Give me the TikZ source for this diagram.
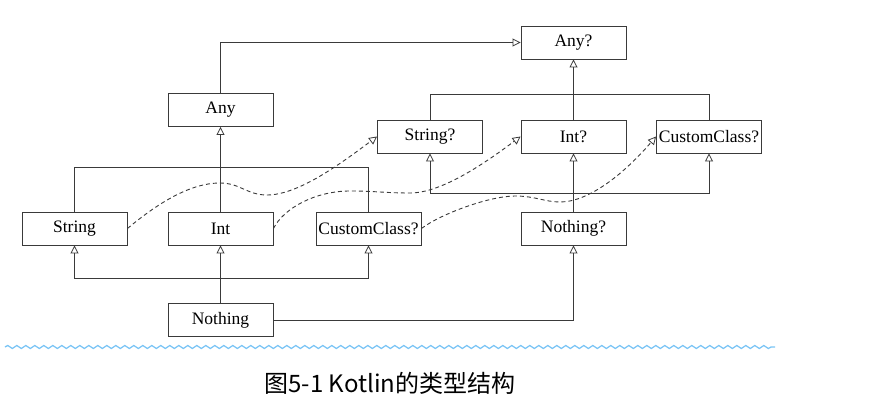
\documentclass[tikz,border=0pt]{standalone}
\usepackage{fontspec}
\setmainfont{Liberation Serif}
\newfontfamily\cjkfont{Noto Sans CJK SC}
\usetikzlibrary{arrows.meta,decorations.pathmorphing}
\definecolor{linec}{HTML}{3A3A3A}
\definecolor{wavec}{RGB}{122,196,245}
\tikzset{
  typebox/.style={draw=linec, line width=0.9pt, minimum width=105pt, minimum height=33pt, inner sep=0pt,
    font=\fontsize{17.5}{20}\selectfont, text=black},
  conn/.style={draw=linec, line width=0.9pt},
  arr/.style={conn, -{Triangle[open,length=8pt,width=8pt,line width=0.8pt]}},
  dsh/.style={arr, dash pattern=on 4pt off 3pt},
}
\begin{document}
\begin{tikzpicture}[x=1pt,y=-1pt]
\useasboundingbox (0,0) rectangle (887,412);
% nodes
\node[typebox] (any) at (220.5,110) {Any};
\node[typebox] (str) at (74.5,228.5) {String};
\node[typebox] (int) at (220.5,228.5) {Int};
\node[typebox] (ccl) at (368.5,228.5) {CustomClass?};
\node[typebox] (not) at (220.5,320) {Nothing};
\node[typebox] (anyq) at (573.5,42.5) {Any?};
\node[typebox] (strq) at (430,136.5) {String?};
\node[typebox] (intq) at (573.5,136.5) {Int?};
\node[typebox] (ccr) at (709,136.5) {CustomClass?};
\node[typebox] (notq) at (573.5,228.5) {Nothing?};
% solid connectors, left tree
\draw[arr] (any.north) |- (anyq.west);
\draw[arr] (int.north) -- (any.south);
\draw[conn] (str.north) -- ++(0,-44) -| (ccl.north);
\draw[arr] (not.north) -- (int.south);
\coordinate (nb) at (220.5,278);
\draw[arr] (nb) -| (str.south);
\draw[arr] (nb) -| (ccl.south);
\draw[arr] (not.east) -| (notq.south);
% right tree
\draw[arr] (intq.north) -- (anyq.south);
\draw[conn] (strq.north) -- ++(0,-25) -| (ccr.north);
\draw[arr] (notq.north) -- (intq.south);
\coordinate (nqb) at (573.5,193);
\draw[arr] (nqb) -| (strq.south);
\draw[arr] (nqb) -| (ccr.south);
% dashed curves
\coordinate (p1) at (220,183);
\coordinate (t1) at (267,195);
\draw[dsh] (str.east) .. controls +(30,-25) and +(-30,0) .. (p1)
  .. controls +(20,0) and +(-20,0) .. (t1)
  .. controls +(30,0) and +(-40,30) .. (strq.west);
\coordinate (p2) at (350,191);
\coordinate (t2) at (410,193);
\draw[dsh] (int.east) .. controls +(10,-20) and +(-35,0) .. (p2)
  .. controls +(25,0) and +(-25,0) .. (t2)
  .. controls +(30,0) and +(-40,30) .. (intq.west);
\coordinate (p3) at (515,196);
\coordinate (t3) at (560,202);
\draw[dsh] (ccl.east) .. controls +(20,-15) and +(-25,0) .. (p3)
  .. controls +(20,0) and +(-15,0) .. (t3)
  .. controls +(30,0) and +(-30,35) .. (ccr.west);
% wavy rule
\coordinate (wl) at (5,347);
\coordinate (wr) at (775,347);
\draw[wavec, line width=1.3pt, decorate, decoration={snake, segment length=9pt, amplitude=1.5pt}] (wl) -- (wr);
% caption
\node[font=\cjkfont\fontsize{24}{28}\selectfont, text=black] (cap) at (390,383) {图5-1 Kotlin的类型结构};
\end{tikzpicture}
\end{document}
